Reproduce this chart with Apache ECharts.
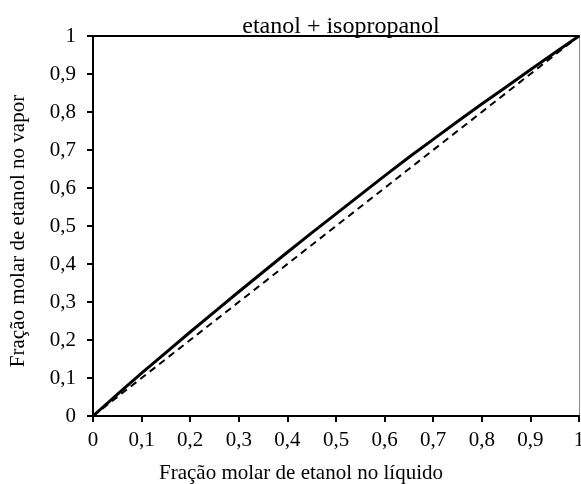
<!DOCTYPE html>
<html>
<head>
<meta charset="utf-8">
<script src="https://cdn.jsdelivr.net/npm/echarts@6/dist/echarts.min.js"></script>
<style>
html,body{margin:0;padding:0;background:#fff;}
#chart{width:581px;height:484px;}
</style>
</head>
<body>
<div id="chart"></div>
<script>
// Data
const titleText = 'etanol + isopropanol';
const xName = 'Fração molar de etanol no líquido';
const yName = 'Fração molar de etanol no vapor';

const liquidX = [0, 0.05, 0.1, 0.15, 0.2, 0.25, 0.3, 0.35, 0.4, 0.45, 0.5, 0.55, 0.6, 0.65, 0.7, 0.75, 0.8, 0.85, 0.9, 0.95, 1];
const vaporY  = [0, 0.057, 0.113, 0.167, 0.221, 0.274, 0.327, 0.379, 0.431, 0.482, 0.532, 0.582, 0.632, 0.681, 0.728, 0.775, 0.821, 0.866, 0.911, 0.956, 1];
const diagX = [0, 1];
const diagY = [0, 1];

const FONT = '"Liberation Serif", "Times New Roman", serif';
const fmt = v => (Math.round(v * 10) / 10).toString().replace('.', ',');

const chart = echarts.init(document.getElementById('chart'), null, {renderer: 'canvas'});
chart.setOption({
  animation: false,
  backgroundColor: '#fff',
  title: {
    text: titleText,
    left: 336,
    top: 10,
    textAlign: 'center',
    textStyle: {fontFamily: FONT, fontSize: 24, fontWeight: 'normal', color: '#000'}
  },
  grid: {left: 93, right: 2, top: 36, bottom: 68, containLabel: false, outerBoundsMode: 'none'},
  xAxis: [{
    type: 'value', min: 0, max: 1, interval: 0.1, position: 'bottom',
    axisLine: {show: true, onZero: false, lineStyle: {color: '#000', width: 2}},
    axisTick: {show: true, inside: false, length: 6, lineStyle: {color: '#000', width: 2}},
    axisLabel: {margin: 14, fontFamily: FONT, fontSize: 21, color: '#000', formatter: fmt, hideOverlap: false},
    splitLine: {show: false}
  }, {
    type: 'value', min: 0, max: 1, position: 'top',
    axisLine: {show: true, onZero: false, lineStyle: {color: '#000', width: 2}},
    axisTick: {show: false}, axisLabel: {show: false}, splitLine: {show: false}
  }],
  yAxis: [{
    type: 'value', min: 0, max: 1, interval: 0.1, position: 'left',
    axisLine: {show: true, onZero: false, lineStyle: {color: '#000', width: 2}},
    axisTick: {show: true, inside: false, length: 6, lineStyle: {color: '#000', width: 2}},
    axisLabel: {margin: 17, fontFamily: FONT, fontSize: 21, color: '#000', formatter: fmt},
    splitLine: {show: false}
  }, {
    type: 'value', min: 0, max: 1, position: 'right',
    axisLine: {show: true, onZero: false, lineStyle: {color: '#888', width: 1}},
    axisTick: {show: false}, axisLabel: {show: false}, splitLine: {show: false}
  }],
  graphic: [{
    type: 'text', x: 301, y: 473,
    style: {text: xName, font: '21px ' + FONT, fill: '#000', textAlign: 'center', textVerticalAlign: 'middle'}
  }, {
    type: 'text', x: 18, y: 231, rotation: Math.PI / 2,
    style: {text: yName, font: '21px ' + FONT, fill: '#000', textAlign: 'center', textVerticalAlign: 'middle'}
  }],
  series: [{
    type: 'line', xAxisIndex: 0, yAxisIndex: 0,
    data: diagX.map((x, i) => [x, diagY[i]]),
    showSymbol: false, symbol: 'none',
    lineStyle: {color: '#000', width: 2, type: [7, 5]}
  }, {
    type: 'line', xAxisIndex: 0, yAxisIndex: 0,
    data: liquidX.map((x, i) => [x, vaporY[i]]),
    showSymbol: false, symbol: 'none', smooth: false,
    lineStyle: {color: '#000', width: 3}
  }]
});
</script>
</body>
</html>
